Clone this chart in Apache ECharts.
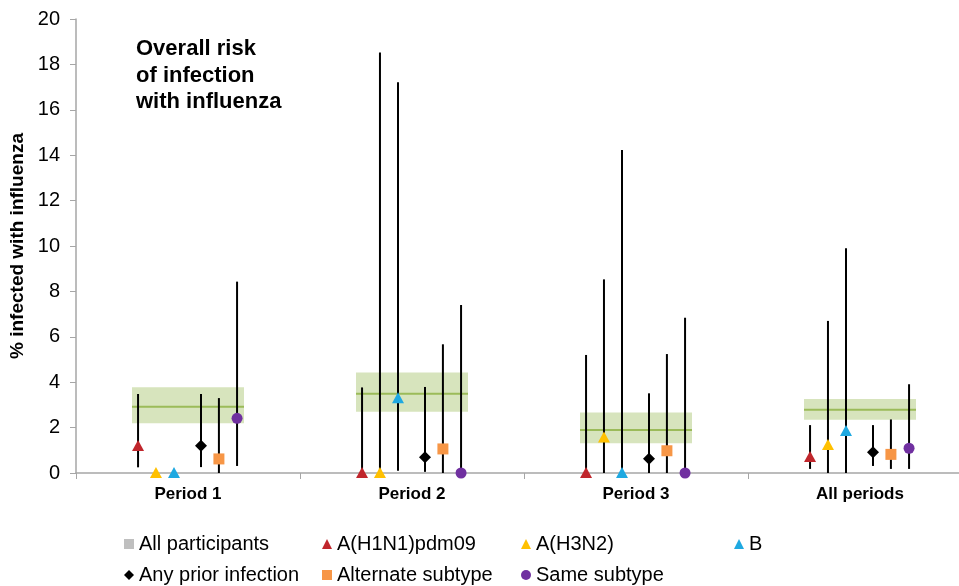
<!DOCTYPE html>
<html>
<head>
<meta charset="utf-8">
<script src="https://cdn.jsdelivr.net/npm/echarts@6/dist/echarts.min.js"></script>
<style>html,body{margin:0;padding:0;background:#fff}#c{width:959px;height:586px}</style>
</head>
<body>
<div id="c"></div>
<script>
const categories = ['Period 1', 'Period 2', 'Period 3', 'All periods'];
const yTicks = [0, 2, 4, 6, 8, 10, 12, 14, 16, 18, 20];

const allMid = [2.92, 3.49, 1.89, 2.79];
const allLow = [2.19, 2.70, 1.31, 2.35];
const allHigh = [3.78, 4.43, 2.67, 3.26];

const h1n1 = [1.19, 0, 0, 0.70];
const h1n1Low = [0.25, 0, 0, 0.18];
const h1n1High = [3.48, 3.77, 5.20, 2.11];

const h3n2 = [0, 0, 1.56, 1.23];
const h3n2Low = [0, 0, 0, 0];
const h3n2High = [0, 18.52, 8.53, 6.70];

const bType = [0, 3.29, 0, 1.85];
const bLow = [0, 0.1, 0, 0];
const bHigh = [0, 17.21, 14.23, 9.90];

const anyPrior = [1.20, 0.69, 0.63, 0.91];
const anyPriorLow = [0.26, 0.05, 0, 0.31];
const anyPriorHigh = [3.48, 3.79, 3.51, 2.11];

const alternate = [0.62, 1.06, 0.98, 0.82];
const alternateLow = [0, 0, 0, 0.18];
const alternateHigh = [3.30, 5.67, 5.24, 2.36];

const same = [2.41, 0, 0, 1.09];
const sameLow = [0.31, 0, 0, 0.18];
const sameHigh = [8.43, 7.40, 6.84, 3.91];

function rows(mid, lo, hi) {
  return categories.map((c, i) => [i, mid[i], lo[i], hi[i]]);
}

function markerShape(kind, x, y, color) {
  if (kind === 'triangle') {
    return {type: 'polygon', shape: {points: [[x, y - 6], [x - 6, y + 5], [x + 6, y + 5]]}, style: {fill: color}};
  }
  if (kind === 'diamond') {
    return {type: 'polygon', shape: {points: [[x, y - 6], [x + 6, y], [x, y + 6], [x - 6, y]]}, style: {fill: color}};
  }
  if (kind === 'rect') {
    return {type: 'rect', shape: {x: x - 5.5, y: y - 5.5, width: 11, height: 11}, style: {fill: color}};
  }
  return {type: 'circle', shape: {cx: x, cy: y, r: 5.5}, style: {fill: color}};
}

function errSeries(name, data, offset, kind, color) {
  return {
    name: name,
    type: 'custom',
    itemStyle: {color: color},
    z: 3,
    data: data,
    renderItem: function (params, api) {
      const c = api.value(0);
      const bw = api.size([1, 0])[0];
      const p = api.coord([c, api.value(1)]);
      const pl = api.coord([c, api.value(2)]);
      const ph = api.coord([c, api.value(3)]);
      const x = p[0] + offset * bw;
      const children = [];
      if (ph[1] < pl[1] - 0.5) {
        children.push({type: 'line', shape: {x1: x, y1: pl[1], x2: x, y2: ph[1]}, style: {stroke: '#000', lineWidth: 2}});
      }
      children.push(markerShape(kind, x, p[1], color));
      return {type: 'group', children: children};
    }
  };
}

const bandSeries = {
  name: 'All participants',
  type: 'custom',
  itemStyle: {color: '#bfbfbf'},
  z: 1,
  data: rows(allMid, allLow, allHigh),
  renderItem: function (params, api) {
    const c = api.value(0);
    const bw = api.size([1, 0])[0];
    const p = api.coord([c, api.value(1)]);
    const pl = api.coord([c, api.value(2)]);
    const ph = api.coord([c, api.value(3)]);
    const x0 = p[0] - bw / 4;
    return {type: 'group', children: [
      {type: 'rect', shape: {x: x0, y: ph[1], width: bw / 2, height: pl[1] - ph[1]}, style: {fill: '#d7e4bd'}},
      {type: 'line', shape: {x1: x0, y1: p[1], x2: x0 + bw / 2, y2: p[1]}, style: {stroke: '#9bbb59', lineWidth: 2}}
    ]};
  }
};

const legendFont = {fontFamily: 'Liberation Sans', fontSize: 20, color: '#000'};
function leg(name, icon, color, left, top) {
  return {
    data: [{name: name, icon: icon, itemStyle: {color: color}}],
    left: left, top: top, itemWidth: 10, itemHeight: 10,
    selectedMode: false, textStyle: legendFont, padding: 0
  };
}

const chart = echarts.init(document.getElementById('c'));
chart.setOption({
  animation: false,
  backgroundColor: '#fff',
  grid: {left: 76, top: 19, width: 896, height: 454, outerBoundsMode: 'none', containLabel: false},
  xAxis: {
    type: 'category',
    data: categories,
    axisLine: {lineStyle: {color: '#a6a6a6', width: 1.5}},
    axisTick: {show: true, length: 6, lineStyle: {color: '#a6a6a6'}},
    axisLabel: {fontFamily: 'Liberation Sans', fontWeight: 'bold', fontSize: 17, color: '#000', margin: 13}
  },
  yAxis: {
    type: 'value',
    min: yTicks[0], max: yTicks[yTicks.length - 1], interval: 2,
    name: '% infected with influenza',
    nameLocation: 'middle', nameGap: 46,
    nameTextStyle: {fontFamily: 'Liberation Sans', fontWeight: 'bold', fontSize: 19, color: '#000'},
    axisLine: {show: true, lineStyle: {color: '#a6a6a6', width: 1.5}},
    axisTick: {show: true, length: 6, lineStyle: {color: '#a6a6a6'}},
    splitLine: {show: false},
    axisLabel: {fontFamily: 'Liberation Sans', fontSize: 20, color: '#000', margin: 16}
  },
  legend: [
    leg('All participants', 'rect', '#bfbfbf', 124, 534),
    leg('A(H1N1)pdm09', 'triangle', '#c0262c', 322, 534),
    leg('A(H3N2)', 'triangle', '#ffc000', 521, 534),
    leg('B', 'triangle', '#1fa9e1', 734, 534),
    leg('Any prior infection', 'diamond', '#000', 124, 565),
    leg('Alternate subtype', 'rect', '#f79646', 322, 565),
    leg('Same subtype', 'circle', '#7030a0', 521, 565)
  ],
  graphic: [{
    type: 'text', left: 136, top: 36,
    style: {text: 'Overall risk\nof infection\nwith influenza', fontFamily: 'Liberation Sans', fontWeight: 'bold', fontSize: 22, lineHeight: 26.5, fill: '#000'}
  }],
  series: [
    bandSeries,
    errSeries('A(H1N1)pdm09', rows(h1n1, h1n1Low, h1n1High), -0.223, 'triangle', '#c0262c'),
    errSeries('A(H3N2)', rows(h3n2, h3n2Low, h3n2High), -0.143, 'triangle', '#ffc000'),
    errSeries('B', rows(bType, bLow, bHigh), -0.0625, 'triangle', '#1fa9e1'),
    errSeries('Any prior infection', rows(anyPrior, anyPriorLow, anyPriorHigh), 0.058, 'diamond', '#000'),
    errSeries('Alternate subtype', rows(alternate, alternateLow, alternateHigh), 0.138, 'rect', '#f79646'),
    errSeries('Same subtype', rows(same, sameLow, sameHigh), 0.219, 'circle', '#7030a0')
  ]
});
</script>
</body>
</html>
